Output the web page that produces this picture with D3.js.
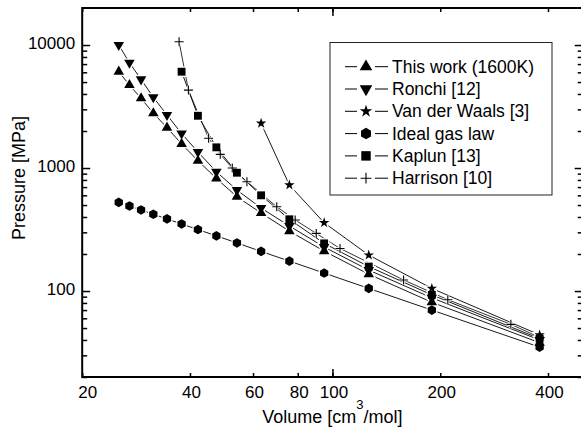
<!DOCTYPE html>
<html>
<head>
<meta charset="utf-8">
<script src="https://cdn.jsdelivr.net/npm/d3@7"></script>
<style>
body{margin:0;background:#fff;}
svg{display:block;font-family:"Liberation Sans",Arial,Helvetica,sans-serif;}
</style>
</head>
<body>
<script>
// volumes shared by most series (cm3/mol)
var volume = [25.3, 27.1, 29.2, 31.6, 34.5, 37.9, 42.1, 47.4, 54.1, 63.2, 75.8, 94.8, 126.3, 189.5, 379];
var thisWork = [6070, 4730, 3690, 2790, 2130, 1570, 1146, 824, 584, 431, 307, 211, 137, 81, 38];
var ronchi = [10000, 7180, 5260, 3760, 2700, 1910, 1350, 933, 662, 473, 338, 228, 148, 88, 40];
var idealGas = [526, 491, 456, 421, 386, 351, 316, 281, 246, 210, 175, 140, 105, 70, 35];

var vdwVolume = [63.2, 75.8, 94.8, 126.3, 189.5, 379];
var vdw = [2310, 728, 359, 196, 105, 44];

var kaplunVolume = [37.9, 42.1, 47.4, 54.1, 63.2, 75.8, 94.8, 126.3, 189.5, 379];
var kaplun = [6070, 2660, 1473, 916, 600, 383, 244, 158, 93, 41];

var harrisonVolume = [37.3, 39.6, 45.1, 48.6, 52.5, 57.7, 69.9, 78.7, 90.1, 105, 158, 210, 315, 379];
var harrison = [10640, 4300, 1744, 1292, 1000, 774, 484, 378, 294, 222, 123, 85, 53.6, 42];

var xLabels = [20, 40, 60, 80, 100, 200, 400];
var xMajor = [100];
var yMajor = [100, 1000, 10000];
var yMinor = [20,30,40,50,60,70,80,90,200,300,400,500,600,700,800,900,2000,3000,4000,5000,6000,7000,8000,9000];

var names = ["This work (1600K)", "Ronchi [12]", "Van der Waals [3]", "Ideal gas law", "Kaplun [13]", "Harrison [10]"];
var shapes = ["up", "down", "star", "hex", "square", "plus"];

var series = [
	{v: volume, p: thisWork},
	{v: volume, p: ronchi},
	{v: vdwVolume, p: vdw},
	{v: volume, p: idealGas},
	{v: kaplunVolume, p: kaplun},
	{v: harrisonVolume, p: harrison}
];
series.forEach(function(s, i){
	s.name = names[i];
	s.shape = shapes[i];
	s.pts = s.v.map(function(v, j){ return {v: v, p: s.p[j]}; });
});

var width = 581, height = 430;
var plot = {left: 82.2, right: 582.7, top: 8, bottom: 377};

var svg = d3.select("body").append("svg")
	.attr("width", width)
	.attr("height", height);

var x = d3.scaleLog().domain([20, 500]).range([plot.left, plot.right]);
var y = d3.scaleLog().domain([20, 20000]).range([plot.bottom, plot.top]);

// marker paths
function hexPath(r){
	var pts = d3.range(6).map(function(k){
		var a = Math.PI / 6 + k * Math.PI / 3;
		return [r * Math.cos(a), r * Math.sin(a)];
	});
	return "M" + pts.join("L") + "Z";
}
function markerPath(shape){
	if(shape == "up" || shape == "down") return d3.symbol(d3.symbolTriangle, 48)();
	if(shape == "star") return d3.symbol(d3.symbolStar, 34)();
	if(shape == "square") return d3.symbol(d3.symbolSquare, 62)();
	if(shape == "hex") return hexPath(4.8);
	return "M-4.5,0H4.5M0,-4.5V4.5";
}
function drawMarker(g, shape, cx, cy, halo, k){
	k = k || 1;
	var m = g.append("path")
		.attr("d", markerPath(shape))
		.attr("transform", "translate(" + cx + "," + cy + ") scale(" + k + ")" + (shape == "down" ? " rotate(180)" : ""));
	if(halo){
		m.attr("fill", shape == "plus" ? "none" : "#fff").attr("stroke", "#fff").attr("stroke-width", 2.6);
	} else if(shape == "plus"){
		m.attr("fill", "none").attr("stroke", "#000").attr("stroke-width", 1.1 / k);
	} else {
		m.attr("fill", "#000");
	}
}

// axes ticks (inward)
function styleAxis(g){
	g.select(".domain").remove();
	g.selectAll(".tick line").attr("stroke", "#000").attr("stroke-width", 1.5);
	g.selectAll(".tick text").attr("fill", "#000").style("font-size", "17px");
}

svg.append("g").attr("transform", "translate(0," + plot.bottom + ")")
	.call(d3.axisBottom(x).tickValues(xLabels).tickFormat(d3.format("d")).tickSize(-4).tickPadding(9))
	.call(styleAxis)
	.selectAll(".tick text").attr("dx", function(d){ return d == 20 ? 5 : 1; });
svg.append("g").attr("transform", "translate(0," + plot.bottom + ")")
	.call(d3.axisBottom(x).tickValues(xMajor).tickFormat("").tickSize(-8))
	.call(styleAxis);
svg.append("g").attr("transform", "translate(0," + plot.top + ")")
	.call(d3.axisTop(x).tickValues(xLabels).tickFormat("").tickSize(-4))
	.call(styleAxis);
svg.append("g").attr("transform", "translate(0," + plot.top + ")")
	.call(d3.axisTop(x).tickValues(xMajor).tickFormat("").tickSize(-8))
	.call(styleAxis);

svg.append("g").attr("transform", "translate(" + plot.left + ",0)")
	.call(d3.axisLeft(y).tickValues(yMajor).tickFormat(d3.format("d")).tickSize(-8).tickPadding(7))
	.call(styleAxis)
	.selectAll(".tick text").attr("dy", "0.22em");
svg.append("g").attr("transform", "translate(" + plot.left + ",0)")
	.call(d3.axisLeft(y).tickValues(yMinor).tickFormat("").tickSize(-5))
	.call(styleAxis);
svg.append("g").attr("transform", "translate(" + plot.right + ",0)")
	.call(d3.axisRight(y).tickValues(yMajor).tickFormat("").tickSize(-8))
	.call(styleAxis);
svg.append("g").attr("transform", "translate(" + plot.right + ",0)")
	.call(d3.axisRight(y).tickValues(yMinor).tickFormat("").tickSize(-5))
	.call(styleAxis);

// frame
svg.append("rect")
	.attr("x", plot.left).attr("y", plot.top)
	.attr("width", plot.right - plot.left).attr("height", plot.bottom - plot.top)
	.attr("fill", "none").attr("stroke", "#000").attr("stroke-width", 2);

// lines, then white halos, then markers
var line = d3.line().x(function(d){ return x(d.v); }).y(function(d){ return y(d.p); });
var gPlot = svg.append("g");
series.forEach(function(s){
	gPlot.append("path")
		.attr("d", line(s.pts))
		.attr("fill", "none")
		.attr("stroke", "#000")
		.attr("stroke-width", s.shape == "plus" ? 0.8 : 0.9);
});
series.forEach(function(s){
	s.pts.forEach(function(d){ drawMarker(gPlot, s.shape, x(d.v), y(d.p), true); });
});
series.forEach(function(s){
	s.pts.forEach(function(d){ drawMarker(gPlot, s.shape, x(d.v), y(d.p), false); });
});

// axis titles
var xt = svg.append("text")
	.attr("x", (plot.left + plot.right) / 2)
	.attr("y", 423)
	.attr("text-anchor", "middle")
	.style("font-size", "18px");
xt.append("tspan").text("Volume [cm");
xt.append("tspan").attr("dy", -14).style("font-size", "13px").text("3");
xt.append("tspan").attr("dy", 14).text("/mol]");

svg.append("text")
	.attr("transform", "translate(25,178) rotate(-90)")
	.attr("text-anchor", "middle")
	.style("font-size", "18px")
	.text("Pressure [MPa]");

// legend
var legend = svg.append("g");
legend.append("rect")
	.attr("x", 330).attr("y", 42.5)
	.attr("width", 222).attr("height", 152.5)
	.attr("fill", "#fff").attr("stroke", "#222").attr("stroke-width", 1);
series.forEach(function(s, i){
	var cy = 66.7 + i * 22.3;
	legend.append("line").attr("x1", 345).attr("x2", 357).attr("y1", cy).attr("y2", cy)
		.attr("stroke", "#000").attr("stroke-width", 1);
	legend.append("line").attr("x1", 375).attr("x2", 388).attr("y1", cy).attr("y2", cy)
		.attr("stroke", "#000").attr("stroke-width", 1);
	drawMarker(legend, s.shape, 366, cy, false, 1.2);
	legend.append("text")
		.attr("x", 392).attr("y", cy + 6)
		.style("font-size", "17.5px")
		.text(s.name);
});
</script>
</body>
</html>
